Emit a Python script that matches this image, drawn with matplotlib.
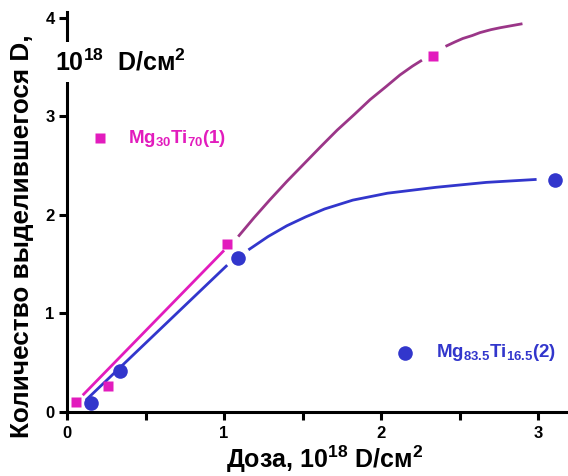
import matplotlib.pyplot as plt
import numpy as np
from matplotlib.ticker import MultipleLocator

plt.rcParams['font.family'] = ['Liberation Sans', 'DejaVu Sans']
plt.rcParams['font.weight'] = 'bold'
plt.rcParams['mathtext.fontset'] = 'custom'
plt.rcParams['mathtext.rm'] = 'Liberation Sans:bold'
plt.rcParams['mathtext.bf'] = 'Liberation Sans:bold'
plt.rcParams['mathtext.default'] = 'rm'

# measured points
dose_1 = [0.06, 0.26, 1.02, 2.33]
amount_1 = [0.10, 0.26, 1.70, 3.61]
dose_2 = [0.15, 0.34, 1.09, 3.11]
amount_2 = [0.09, 0.42, 1.56, 2.35]

# guide curves, in pieces (gaps around the markers)
fit1a_x = [0.10, 1.00]
fit1a_y = [0.17, 1.64]
fit1b_x = [1.09, 1.19, 1.29, 1.40, 1.51, 1.62, 1.72, 1.83, 1.93, 2.03, 2.12, 2.20, 2.26]
fit1b_y = [1.78, 1.97, 2.15, 2.34, 2.52, 2.70, 2.86, 3.02, 3.17, 3.30, 3.42, 3.51, 3.57]
fit1c_x = [2.41, 2.47, 2.52, 2.58, 2.63, 2.70, 2.76, 2.83, 2.90]
fit1c_y = [3.71, 3.755, 3.79, 3.82, 3.85, 3.88, 3.90, 3.92, 3.94]
fit2a_x = [0.12, 1.02]
fit2a_y = [0.12, 1.49]
fit2b_x = [1.155, 1.28, 1.40, 1.52, 1.64, 1.82, 2.04, 2.35, 2.67, 2.99]
fit2b_y = [1.645, 1.78, 1.89, 1.98, 2.06, 2.15, 2.22, 2.28, 2.33, 2.36]

label_1 = 'Mg$_{30}$Ti$_{70}$(1)'
label_2 = 'Mg$_{83.5}$Ti$_{16.5}$(2)'

pink = '#e21cbd'
purple = '#9b3688'
blue = '#3236cc'

fig = plt.figure(figsize=(5.68, 4.76), dpi=100)
ax = fig.add_axes([0.118, 0.1345, 0.882, 0.8405])

ax.plot(fit1a_x, fit1a_y, color=pink, lw=2.0, solid_capstyle='butt')
ax.plot(fit1b_x, fit1b_y, color=purple, lw=2.0, solid_capstyle='butt')
ax.plot(fit1c_x, fit1c_y, color=purple, lw=2.0, solid_capstyle='butt')
ax.plot(fit2a_x, fit2a_y, color=blue, lw=2.0, solid_capstyle='butt')
ax.plot(fit2b_x, fit2b_y, color=blue, lw=2.0, solid_capstyle='butt')

ax.plot(dose_1, amount_1, 's', color=pink, ms=7.5, mec='none', clip_on=False)
ax.plot(dose_2, amount_2, 'o', color=blue, ms=10.5, mec='none', clip_on=False)

# hand-made legend entries
ax.plot([0.21], [2.78], 's', color=pink, ms=7.5, mec='none')
ax.text(0.39, 2.78, label_1, color=pink, fontsize=13.5, va='center', ha='left')
ax.plot([2.15], [0.60], 'o', color=blue, ms=10.5, mec='none')
ax.text(2.35, 0.60, label_2, color=blue, fontsize=13.5, va='center', ha='left')

ax.set_xlim(0, 3.19)
ax.set_ylim(0, 4.06)
ax.xaxis.set_major_locator(MultipleLocator(1))
ax.xaxis.set_minor_locator(MultipleLocator(0.5))
ax.yaxis.set_major_locator(MultipleLocator(1))
ax.spines['top'].set_visible(False)
ax.spines['right'].set_visible(False)
for s in ['left', 'bottom']:
    ax.spines[s].set_linewidth(2.2)
ax.tick_params(which='both', direction='out', width=2.2, length=6, labelsize=12)
ax.tick_params(axis='x', pad=4)
ax.tick_params(axis='y', pad=3)

fig.text(0.572, 1 - 459 / 476, 'Доза, 10$^{18}$ D/см$^2$', fontsize=18,
         fontweight='bold', ha='center', va='center')
fig.text(22 / 568, 1 - 236 / 476, 'Количество выделившегося D,', fontsize=18.8,
         fontweight='bold', rotation=90, ha='center', va='center')

# units written across the y axis
ax.text(-0.076, 3.55, '10$^{18}$  D/см$^2$', fontsize=18, ha='left', va='center',
        bbox=dict(facecolor='white', edgecolor='none', pad=5), clip_on=False)

fig.savefig('out.png', dpi=100)
